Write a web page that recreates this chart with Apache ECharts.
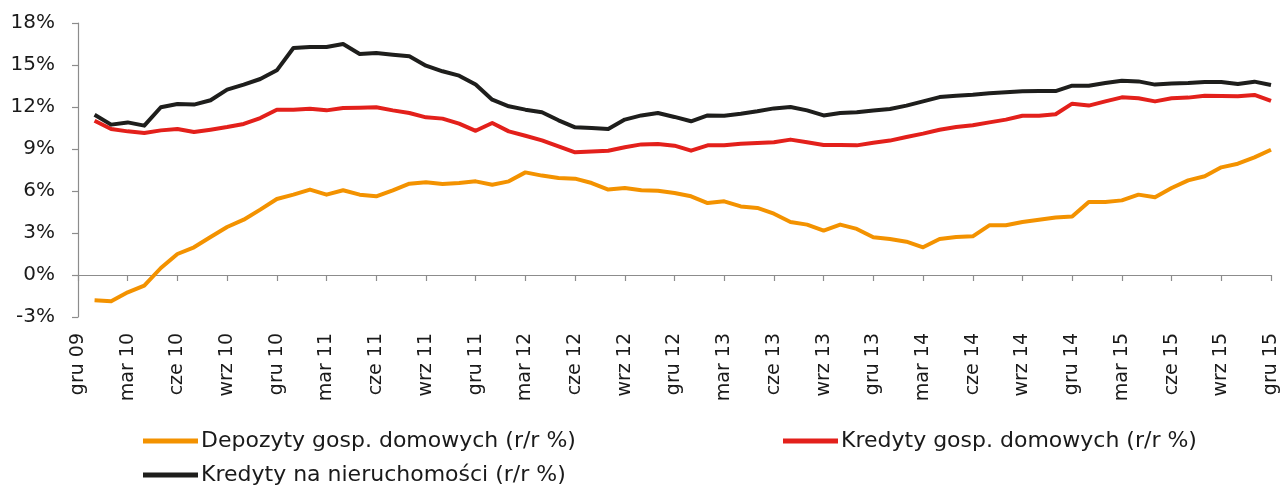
<!DOCTYPE html>
<html>
<head>
<meta charset="utf-8">
<title>Depozyty i kredyty gospodarstw domowych</title>
<script src="https://cdn.jsdelivr.net/npm/echarts@6/dist/echarts.min.js"></script>
<style>
  html, body { margin: 0; padding: 0; background: #ffffff; }
  #chart { width: 1285px; height: 486px; }
</style>
</head>
<body>
<div id="chart"></div>
<script>
// Monthly y/y growth rates, sty 10 .. gru 15 (x = months since gru 09)
const tickLabels = [
  'gru 09', 'mar 10', 'cze 10', 'wrz 10', 'gru 10', 'mar 11', 'cze 11', 'wrz 11', 'gru 11',
  'mar 12', 'cze 12', 'wrz 12', 'gru 12', 'mar 13', 'cze 13', 'wrz 13', 'gru 13',
  'mar 14', 'cze 14', 'wrz 14', 'gru 14', 'mar 15', 'cze 15', 'wrz 15', 'gru 15'
];

const seriesNames = [
  'Depozyty gosp. domowych (r/r %)',
  'Kredyty gosp. domowych (r/r %)',
  'Kredyty na nieruchomości (r/r %)'
];

const depozyty = [
  -1.81, -1.88, -1.24, -0.76, 0.50, 1.50, 1.98, 2.71, 3.43, 3.95,
  4.67, 5.43, 5.74, 6.10, 5.74, 6.05, 5.74, 5.62, 6.05, 6.52,
  6.62, 6.50, 6.57, 6.69, 6.45, 6.69, 7.33, 7.10, 6.93, 6.88,
  6.57, 6.10, 6.21, 6.05, 6.02, 5.86, 5.62, 5.14, 5.26, 4.90,
  4.79, 4.38, 3.79, 3.60, 3.17, 3.60, 3.29, 2.70, 2.57, 2.38,
  1.98, 2.57, 2.71, 2.76, 3.55, 3.55, 3.79, 3.95, 4.10, 4.17,
  5.21, 5.21, 5.33, 5.74, 5.55, 6.21, 6.76, 7.05, 7.69, 7.95,
  8.40, 8.95
];

const kredytyGD = [
  11.02, 10.43, 10.26, 10.14, 10.33, 10.43, 10.21, 10.38, 10.57, 10.79,
  11.21, 11.81, 11.81, 11.88, 11.76, 11.93, 11.95, 11.98, 11.76, 11.57,
  11.26, 11.17, 10.81, 10.30, 10.86, 10.26, 9.95, 9.62, 9.19, 8.76,
  8.83, 8.88, 9.12, 9.33, 9.36, 9.24, 8.88, 9.26, 9.26, 9.38,
  9.43, 9.48, 9.67, 9.48, 9.29, 9.29, 9.26, 9.45, 9.60, 9.86,
  10.10, 10.38, 10.57, 10.69, 10.90, 11.10, 11.38, 11.38, 11.48, 12.24,
  12.10, 12.40, 12.69, 12.62, 12.40, 12.62, 12.67, 12.81, 12.79, 12.76,
  12.86, 12.43
];

const kredytyNier = [
  11.45, 10.74, 10.90, 10.67, 11.98, 12.21, 12.17, 12.48, 13.24, 13.60,
  14.00, 14.62, 16.21, 16.29, 16.29, 16.50, 15.79, 15.86, 15.74, 15.62,
  14.95, 14.55, 14.24, 13.60, 12.52, 12.05, 11.81, 11.62, 11.05, 10.55,
  10.50, 10.43, 11.10, 11.40, 11.57, 11.29, 10.98, 11.40, 11.38, 11.52,
  11.69, 11.90, 12.00, 11.76, 11.40, 11.57, 11.62, 11.75, 11.86, 12.10,
  12.40, 12.71, 12.81, 12.88, 12.98, 13.05, 13.12, 13.14, 13.14, 13.52,
  13.52, 13.71, 13.88, 13.83, 13.60, 13.67, 13.71, 13.79, 13.79, 13.64,
  13.81, 13.57
];

const colors = ['#F39200', '#E3201B', '#1E1E1C'];
const FONT = 'DejaVu Sans, Verdana, sans-serif';
const TEXT = '#1a1a1a';
const AXIS = '#8c8c8c';

const toPoints = arr => arr.map((v, i) => [i + 1, v]);

const chart = echarts.init(document.getElementById('chart'), null, { renderer: 'canvas' });

const legendBase = {
  orient: 'horizontal',
  padding: 0,
  icon: 'rect',
  itemWidth: 55,
  itemHeight: 5,
  textStyle: { fontFamily: FONT, fontSize: 22, color: TEXT, padding: [0, 0, 0, -2] }
};

chart.setOption({
  animation: false,
  backgroundColor: '#ffffff',
  color: colors,
  grid: { left: 78, right: 14, top: 23, bottom: 169, containLabel: false },
  legend: [
    Object.assign({}, legendBase, { left: 143, top: 430, data: [seriesNames[0]] }),
    Object.assign({}, legendBase, { left: 783, top: 430, data: [seriesNames[1]] }),
    Object.assign({}, legendBase, { left: 143, top: 464, data: [seriesNames[2]] })
  ],
  xAxis: [
    {
      // axis line and ticks crossing at 0%
      type: 'value', min: 0, max: 72, interval: 3,
      axisLine: { show: true, onZero: true, lineStyle: { color: AXIS, width: 1.2 } },
      axisTick: { show: true, length: 6, lineStyle: { color: AXIS, width: 1.2 } },
      axisLabel: { show: false },
      splitLine: { show: false }
    },
    {
      // month labels along the bottom of the plot
      type: 'value', min: 0, max: 72, interval: 3, position: 'bottom',
      axisLine: { show: false, onZero: false },
      axisTick: { show: false },
      splitLine: { show: false },
      axisLabel: {
        show: true, rotate: 90, margin: 16,
        showMinLabel: true, showMaxLabel: true,
        fontFamily: FONT, fontSize: 19, color: TEXT,
        formatter: v => tickLabels[Math.round(v / 3)] || ''
      }
    }
  ],
  yAxis: {
    type: 'value', min: -3, max: 18, interval: 3,
    axisLine: { show: true, lineStyle: { color: AXIS, width: 1.2 } },
    axisTick: { show: true, length: 6, lineStyle: { color: AXIS, width: 1.2 } },
    splitLine: { show: false },
    axisLabel: {
      margin: 23, fontFamily: FONT, fontSize: 20, color: TEXT,
      formatter: '{value}%'
    }
  },
  series: [
    { name: seriesNames[0], type: 'line', data: toPoints(depozyty) },
    { name: seriesNames[1], type: 'line', data: toPoints(kredytyGD) },
    { name: seriesNames[2], type: 'line', data: toPoints(kredytyNier) }
  ].map((s, k) => Object.assign(s, {
    xAxisIndex: 0, yAxisIndex: 0,
    showSymbol: false, symbol: 'none', smooth: false,
    lineStyle: { width: 4, color: colors[k], join: 'round' },
    itemStyle: { color: colors[k] }
  }))
});
</script>
</body>
</html>
